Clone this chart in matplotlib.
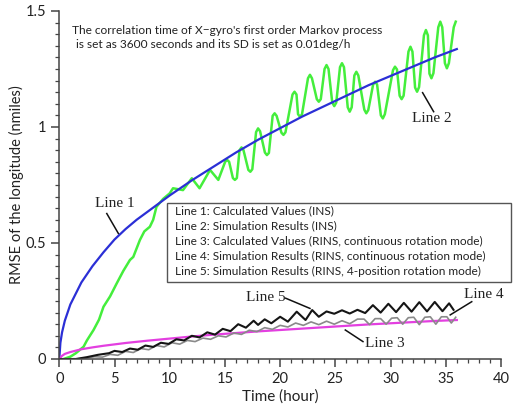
import matplotlib.pyplot as plt
from matplotlib.patches import Rectangle
from matplotlib.ticker import MultipleLocator

# Line 1: calculated values (INS)
t_line1 = [0, 0.1, 0.25, 0.5, 1, 2, 3, 4, 5, 6, 7, 8, 9, 10, 12, 14, 16, 18,
           20, 22, 24, 26, 28, 30, 32, 34, 36]
v_line1 = [0, 0.07, 0.115, 0.165, 0.235, 0.33, 0.4, 0.46, 0.515, 0.56, 0.6,
           0.635, 0.67, 0.705, 0.77, 0.83, 0.89, 0.945, 0.995, 1.045, 1.09,
           1.135, 1.18, 1.22, 1.26, 1.30, 1.336]

# Line 2: simulation results (INS)
t_line2 = [0.4, 1.0, 1.5, 2.2, 2.5, 3.1, 3.6, 4.0, 4.6, 5.2, 5.8, 6.4, 6.7,
           7.3, 7.7, 8.2, 8.5, 8.8, 9.4, 10.0, 10.3, 11.2, 12.0, 12.7, 13.65,
           14.4,
           15.02, 15.2, 15.38, 15.72, 15.9, 16.08, 16.32, 16.5, 16.68,
           17.12, 17.3, 17.48, 17.82, 18.0, 18.18, 18.62, 18.8, 18.98,
           19.32, 19.5, 19.68, 20.12, 20.3, 20.48, 21.12, 21.3, 21.48,
           21.62, 21.8, 21.98, 22.52, 22.7, 22.88, 23.32, 23.5, 23.68,
           24.02, 24.2, 24.38, 24.72, 24.9, 25.08, 25.42, 25.6, 25.78,
           26.12, 26.3, 26.48, 26.72, 26.9, 27.08, 27.62, 27.8, 27.98,
           28.42, 28.6, 28.78, 29.12, 29.3, 29.48, 30.22, 30.4, 30.58,
           30.82, 31.0, 31.18, 31.62, 31.8, 31.98, 32.22, 32.4, 32.58,
           33.02, 33.2, 33.38, 33.52, 33.7, 33.88, 34.32, 34.5, 34.68,
           34.92, 35.1, 35.28, 35.72, 35.9]
v_line2 = [0.0, 0.01, 0.025, 0.053, 0.08, 0.125, 0.17, 0.225, 0.27, 0.326,
           0.38, 0.427, 0.44, 0.513, 0.55, 0.57, 0.6, 0.656, 0.69, 0.714,
           0.736, 0.728, 0.779, 0.736, 0.815, 0.772,
           0.85, 0.858, 0.85, 0.78, 0.772, 0.78, 0.9, 0.912, 0.9,
           0.815, 0.807, 0.818, 0.978, 0.994, 0.982, 0.89, 0.879, 0.888,
           1.048, 1.059, 1.048, 0.975, 0.966, 0.977, 1.14, 1.152, 1.14,
           1.055, 1.044, 1.055, 1.21, 1.225, 1.21, 1.12, 1.109, 1.12,
           1.25, 1.267, 1.25, 1.105, 1.09, 1.105, 1.258, 1.275, 1.258,
           1.085, 1.066, 1.085, 1.222, 1.238, 1.222, 1.075, 1.059, 1.073,
           1.183, 1.195, 1.183, 1.05, 1.037, 1.055, 1.245, 1.26, 1.248,
           1.135, 1.12, 1.135, 1.325, 1.346, 1.325, 1.17, 1.152, 1.172,
           1.395, 1.418, 1.395, 1.23, 1.21, 1.232, 1.43, 1.454, 1.43,
           1.275, 1.253, 1.275, 1.43, 1.454]

# Line 3: calculated values (RINS, continuous rotation)
t_line3 = [0, 0.25, 0.5, 1, 2, 3, 4, 5, 6, 8, 10, 12, 14, 16, 18, 20, 22,
           24, 26, 28, 30, 32, 34, 36]
v_line3 = [0.0, 0.014, 0.022, 0.03, 0.042, 0.05, 0.057, 0.063, 0.069, 0.079,
           0.088, 0.097, 0.105, 0.112, 0.119, 0.125, 0.131, 0.137, 0.143,
           0.149, 0.154, 0.159, 0.164, 0.168]

# Line 4: simulation results (RINS, continuous rotation)
t_line4 = [1.5, 2.5, 3.2, 3.9, 4.6, 5.3, 6.0, 6.7, 7.4, 8.1, 8.8, 9.5, 10.2,
           10.9, 11.6, 12.3, 13.0, 13.7, 14.4, 15.1, 15.8, 16.5, 17.2, 17.9,
           18.6, 19.3, 20.0, 20.7, 21.4, 22.1, 22.8, 23.5, 24.2, 24.9, 25.6,
           26.3, 27.0, 27.6, 28.1, 28.6, 29.1, 29.6, 30.1, 30.6, 31.1, 31.6,
           32.1, 32.6, 33.1, 33.6, 34.1, 34.6, 35.1, 35.5, 35.9]
v_line4 = [0.0, 0.004, 0.01, 0.008, 0.02, 0.016, 0.033, 0.028, 0.045, 0.04,
           0.058, 0.052, 0.07, 0.064, 0.08, 0.075, 0.09, 0.085, 0.1, 0.095,
           0.112, 0.106, 0.124, 0.118, 0.135, 0.128, 0.145, 0.138, 0.155,
           0.145, 0.16, 0.148, 0.163, 0.15, 0.165, 0.152, 0.172, 0.172,
           0.148, 0.174, 0.174, 0.15, 0.176, 0.178, 0.15, 0.178, 0.18,
           0.148, 0.18, 0.182, 0.15, 0.182, 0.182, 0.155, 0.18]

# Line 5: simulation results (RINS, 4-position rotation)
t_line5 = [0, 1.5, 2.5, 3.5, 4.5, 5.0, 5.7, 6.4, 7.1, 7.8, 8.5, 9.2, 9.9,
           10.6, 11.3, 12.0, 12.7, 13.4, 14.1, 14.8, 15.5, 16.2, 16.9, 17.6,
           18.0, 18.6, 19.2, 20.0, 20.7, 21.5, 22.3, 22.9, 23.5, 24.2, 24.9,
           25.6, 26.3, 27.0, 27.7, 28.4, 29.1, 29.8, 30.5, 31.2, 31.9, 32.6,
           33.3, 34.0, 34.7, 35.3, 35.7]
v_line5 = [0.0, 0.0, 0.008, 0.018, 0.025, 0.035, 0.03, 0.045, 0.04, 0.058,
           0.052, 0.07, 0.065, 0.085, 0.08, 0.1, 0.093, 0.115, 0.105, 0.13,
           0.12, 0.15, 0.135, 0.165, 0.147, 0.171, 0.154, 0.182, 0.161,
           0.204, 0.168, 0.211, 0.182, 0.205, 0.195, 0.21, 0.196, 0.212,
           0.198, 0.232, 0.2, 0.238, 0.202, 0.242, 0.204, 0.245, 0.205,
           0.246, 0.206, 0.24, 0.212]

legend_lines = [
    "Line 1: Calculated Values (INS)",
    "Line 2: Simulation Results (INS)",
    "Line 3: Calculated Values (RINS, continuous rotation mode)",
    "Line 4: Simulation Results (RINS, continuous rotation mode)",
    "Line 5: Simulation Results (RINS, 4-position rotation mode)",
]

sans = ["Lato", "DejaVu Sans"]
serif = ["Liberation Serif", "DejaVu Serif"]
W, H = 514, 407

fig = plt.figure(figsize=(W / 100, H / 100), dpi=100)
ax = fig.add_axes([59.3 / W, 1 - 359 / H, (501 - 59.3) / W, (359 - 11) / H])

ax.plot(t_line2, v_line2, color="#44ee3c", lw=1.8, solid_joinstyle="round")
ax.plot(t_line1, v_line1, color="#2b2fd6", lw=1.6)
ax.plot(t_line3, v_line3, color="#e33fe0", lw=1.6)
ax.plot(t_line4, v_line4, color="#8a8a8a", lw=1.2)
ax.plot(t_line5, v_line5, color="#151515", lw=1.5)

ax.set_xlim(0, 40)
ax.set_ylim(0, 1.5)
ax.xaxis.set_major_locator(MultipleLocator(5))
ax.xaxis.set_minor_locator(MultipleLocator(1))
ax.yaxis.set_minor_locator(MultipleLocator(0.05))
ax.set_yticks([0, 0.5, 1, 1.5])
ax.set_yticklabels(["0", "0.5", "1", "1.5"])
for s in ["top", "right"]:
    ax.spines[s].set_visible(False)
for s in ["left", "bottom"]:
    ax.spines[s].set_color("#444444")
    ax.spines[s].set_linewidth(1.1)
ax.tick_params(which="major", length=6, width=1.1, color="#444444",
               labelsize=10.5, labelcolor="#222222", direction="out")
ax.tick_params(which="minor", length=3, width=0.9, color="#444444",
               direction="out")
for lab in ax.get_xticklabels() + ax.get_yticklabels():
    lab.set_family(sans)

ax.set_xlabel("Time (hour)", family=sans, fontsize=11, color="#222222",
              labelpad=2)
ax.set_ylabel("RMSE of the longitude (nmiles)", family=sans, fontsize=10.5,
              color="#222222", labelpad=1)

# note at top
fig.text(71.7 / W, 1 - 30 / H, "The correlation time of X\u2212gyro's first order Markov process",
         family=sans, fontsize=8.6, color="#222222", va="center", ha="left")
fig.text(76 / W, 1 - 45 / H, "is set as 3600 seconds and its SD is set as 0.01deg/h",
         family=sans, fontsize=8.6, color="#222222", va="center", ha="left")

# legend box (text only)
fig.patches.append(Rectangle((166.7 / W, 1 - 281.7 / H), (511 - 166.7) / W,
                             (281.7 - 203.3) / H, transform=fig.transFigure,
                             facecolor="white", edgecolor="#555555", lw=1.0,
                             zorder=5))
for i, txt in enumerate(legend_lines):
    fig.text(175 / W, 1 - (211 + 15 * i) / H, txt, family=sans, fontsize=8.6,
             color="#222222", va="center", ha="left", zorder=6)

# line labels with leaders
labels = [
    ("Line 1", 5.05, 0.671, (4.3, 0.627), (5.35, 0.541)),
    ("Line 2", 33.7, 1.037, (32.9, 1.148), (33.9, 1.066)),
    ("Line 5", 18.7, 0.265, (20.5, 0.262), (22.7, 0.218)),
    ("Line 3", 29.5, 0.067, (25.9, 0.125), (27.5, 0.075)),
    ("Line 4", 38.4, 0.279, (37.35, 0.247), (35.4, 0.19)),
]
for txt, x, y, p0, p1 in labels:
    ax.text(x, y, txt, family=serif, fontsize=11, color="#222222",
            ha="center", va="center", clip_on=False)
    ax.plot([p0[0], p1[0]], [p0[1], p1[1]], color="#111111", lw=1.1,
            clip_on=False)

fig.savefig("out.png", dpi=100)
